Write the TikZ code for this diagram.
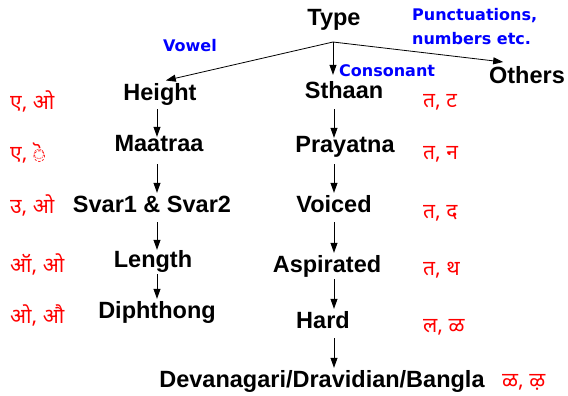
\documentclass[tikz,border=0pt]{standalone}
\usepackage{fontspec}
\setmainfont{Liberation Sans}
\newfontfamily\devfont[Script=Devanagari]{Noto Sans}
\newfontfamily\tagfont{DejaVu Sans}
\usetikzlibrary{calc,positioning,arrows.meta}

\begin{document}
\begin{tikzpicture}[x=1pt, y=-1pt,
	feat/.style={font=\fontsize{23.5}{26}\selectfont\bfseries, inner sep=2pt, text height=17pt, text depth=5pt, anchor=base},
	kind/.style={font=\tagfont\fontsize{16}{24.5}\selectfont\bfseries, text=blue, inner sep=0pt, anchor=base},
	eg/.style={font=\devfont\fontsize{21}{24}\selectfont, text=red, inner sep=0pt, anchor=base west},
	arr/.style={-{Triangle[length=10pt, width=7pt]}, line width=0.8pt, shorten <=3pt}]
		\useasboundingbox (0,0) rectangle (568,396);

		\node[feat] (type) at (334,26) {Type};
		\coordinate (fork) at (333,42);
		\coordinate (vcol) at (157,0);
		\coordinate (ccol) at (334,0);

		\node[feat] (height) at (160,101) {Height};
		\node[feat] (maatraa) at (159,151) {Maatraa};
		\node[feat] (svar) at (152,212) {Svar1 \& Svar2};
		\node[feat] (length) at (153,267) {Length};
		\node[feat] (diphthong) at (157,318) {Diphthong};

		\node[feat] (sthaan) at (344,99) {Sthaan};
		\node[feat] (prayatna) at (345,152) {Prayatna};
		\node[feat] (voiced) at (334,212) {Voiced};
		\node[feat] (aspirated) at (327,272) {Aspirated};
		\node[feat] (hard) at (323,328) {Hard};
		\node[feat] (script) at (322,387) {Devanagari/Dravidian/Bangla};

		\node[feat] (others) at (527,84) {Others};

		\node[kind] (vowel) at (190,52) {Vowel};
		\node[kind, anchor=base west] (consonant) at (339,77) {Consonant};
		\node[kind, anchor=base west, align=left] (misc) at (412,45) {Punctuations,\\numbers etc.};

		\draw[arr, shorten <=0pt, shorten >=6pt] (fork) -- (height.north);
		\draw[arr, shorten <=0pt, shorten >=5pt] (fork) -- (sthaan.north -| fork);
		\draw[arr, shorten <=0pt, shorten >=24pt] (fork) -- (others.north);

		\draw[arr, shorten <=1pt, shorten >=-5pt] (height.south -| vcol) -- (maatraa.north -| vcol);
		\draw[arr, shorten <=6pt] (maatraa.south -| vcol) -- (svar.north -| vcol);
		\draw[arr, shorten >=-2pt] (svar.south -| vcol) -- (length.north -| vcol);
		\draw[arr, shorten <=0pt] (length.south -| vcol) -- (diphthong.north -| vcol);

		\draw[arr, shorten >=-5pt] (sthaan.south -| ccol) -- (prayatna.north -| ccol);
		\draw[arr, shorten <=5pt] (prayatna.south -| ccol) -- (voiced.north -| ccol);
		\draw[arr] (voiced.south -| ccol) -- (aspirated.north -| ccol);
		\draw[arr, shorten <=0pt] (aspirated.south -| ccol) -- (hard.north -| ccol);
		\draw[arr] (hard.south -| ccol) -- (script.north -| ccol);

		\node[eg] (egheight) at (10,110) {ए, ओ};
		% the vowel sign sits on a dotted circle taken from DejaVu Sans
		\node[eg] (egmaatraa) at (10,160) {ए, \rlap{\tagfont\fontsize{15}{18}\selectfont ◌}ॆ};
		\node[eg] (egsvar) at (10,213) {उ, ओ};
		\node[eg] (eglength) at (10,272) {ऑ, ओ};
		\node[eg] (egdiph) at (10,323) {ओ, औ};

		\node[eg] (egsthaan) at (423,107) {त, ट};
		\node[eg] (egprayatna) at (423,159) {त, न};
		\node[eg] (egvoiced) at (423,218) {त, द};
		\node[eg] (egasp) at (423,275) {त, थ};
		\node[eg] (eghard) at (423,332) {ल, ळ};
		\node[eg] (egscript) at (502,387) {ळ, ऴ};
\end{tikzpicture}
\end{document}
